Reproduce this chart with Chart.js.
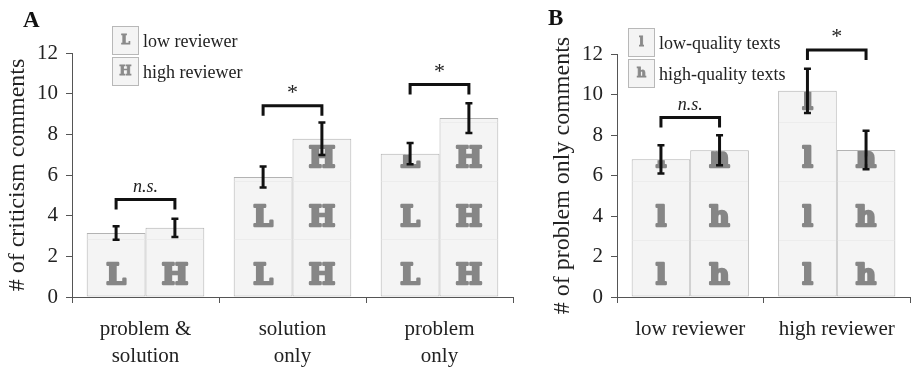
<!DOCTYPE html>
<html>
<head>
<meta charset="utf-8">
<script src="https://cdn.jsdelivr.net/npm/chart.js@4.4.0/dist/chart.umd.min.js"></script>
<style>
	body { margin: 0; background: #fff; }
	.panel { position: absolute; top: 0; height: 369px; }
	#panel-a { left: 0; width: 540px; }
	#panel-b { left: 540px; width: 374px; }
</style>
</head>
<body>
<div class="panel" id="panel-a"><canvas id="chart-a"></canvas></div>
<div class="panel" id="panel-b"><canvas id="chart-b"></canvas></div>
<script>
// panel A: criticism comments by feedback type
const categoriesA = [["problem &", "solution"], ["solution", "only"], ["problem", "only"]];
const lowReviewer = [3.15, 5.9, 7.05];
const highReviewer = [3.4, 7.78, 8.8];
const lowReviewerErr = [0.33, 0.52, 0.52];
const highReviewerErr = [0.45, 0.8, 0.73];
const bracketA = [4.8, 9.4, 10.45];
const signifA = ["n.s.", "*", "*"];

// panel B: problem only comments by reviewer level
const categoriesB = ["low reviewer", "high reviewer"];
const lowQuality = [6.8, 10.18];
const highQuality = [7.25, 7.26];
const lowQualityErr = [0.7, 1.09];
const highQualityErr = [0.74, 0.95];
const bracketB = [8.87, 12.2];
const signifB = ["n.s.", "*"];

const yTicks = [0, 2, 4, 6, 8, 10, 12];

const SERIF = "'Liberation Serif', 'Times New Roman', serif";
Chart.defaults.font.family = SERIF;
Chart.defaults.color = "#222";

const decorPlugin = {
	id: "decor",
	afterDatasetsDraw(chart, args, opts) {
		const ctx = chart.ctx;
		const yScale = chart.scales.y;
		// letter tiles inside bars
		chart.data.datasets.forEach((ds, i) => {
			const meta = chart.getDatasetMeta(i);
			meta.data.forEach((bar) => {
				const {x, y, base, width} = bar.getProps(["x", "y", "base", "width"], true);
				const left = x - width / 2;
				ctx.save();
				ctx.beginPath();
				ctx.rect(left + 1, y + 1, width - 2, base - y - 1);
				ctx.clip();
				ctx.font = "bold 28px 'DejaVu Serif'";
				ctx.textAlign = "center";
				ctx.textBaseline = "middle";
				ctx.lineJoin = "round";
				for (let k = 0; base - width * k > y; k++) {
					const cy = base - width * (k + 0.33);
					ctx.fillStyle = "#868686";
					ctx.strokeStyle = "#868686";
					ctx.lineWidth = 2.5;
					ctx.strokeText(opts.letters[i], x, cy);
					ctx.fillText(opts.letters[i], x, cy);
					const ly = Math.round(base - width * (k + 0.97)) + 0.5;
					ctx.strokeStyle = "#ececec";
					ctx.lineWidth = 1;
					ctx.beginPath();
					ctx.moveTo(left, ly);
					ctx.lineTo(left + width, ly);
					ctx.stroke();
				}
				ctx.restore();
			});
		});
		// error bars
		ctx.save();
		ctx.strokeStyle = "#111";
		chart.data.datasets.forEach((ds, i) => {
			const meta = chart.getDatasetMeta(i);
			meta.data.forEach((bar, j) => {
				const x = bar.x;
				const v = ds.data[j];
				const hi = yScale.getPixelForValue(v + opts.errors[i][j]);
				const lo = yScale.getPixelForValue(v - opts.errors[i][j]);
				ctx.lineWidth = 3;
				ctx.beginPath();
				ctx.moveTo(x, hi);
				ctx.lineTo(x, lo);
				ctx.stroke();
				ctx.lineWidth = 2.5;
				ctx.beginPath();
				ctx.moveTo(x - 3.5, hi);
				ctx.lineTo(x + 3.5, hi);
				ctx.moveTo(x - 3.5, lo);
				ctx.lineTo(x + 3.5, lo);
				ctx.stroke();
			});
		});
		// significance brackets
		const m0 = chart.getDatasetMeta(0);
		const m1 = chart.getDatasetMeta(1);
		opts.brackets.forEach((level, j) => {
			const x0 = m0.data[j].x;
			const x1 = m1.data[j].x;
			const top = yScale.getPixelForValue(level);
			ctx.lineWidth = 3;
			ctx.lineJoin = "miter";
			ctx.beginPath();
			ctx.moveTo(x0, top + 10);
			ctx.lineTo(x0, top);
			ctx.lineTo(x1, top);
			ctx.lineTo(x1, top + 10);
			ctx.stroke();
			const label = opts.signif[j];
			ctx.fillStyle = "#222";
			ctx.textAlign = "center";
			ctx.textBaseline = "alphabetic";
			if (label === "*") {
				ctx.font = "22px " + SERIF;
				ctx.fillText(label, (x0 + x1) / 2, top - 7);
			} else {
				ctx.font = "italic 18px " + SERIF;
				ctx.fillText(label, (x0 + x1) / 2, top - 7);
			}
		});
		ctx.restore();
	},
	afterDraw(chart, args, opts) {
		const ctx = chart.ctx;
		const area = chart.chartArea;
		ctx.save();
		// panel letter
		ctx.fillStyle = "#111";
		ctx.font = "bold 23px " + SERIF;
		ctx.textAlign = "left";
		ctx.textBaseline = "alphabetic";
		ctx.fillText(opts.panel, opts.panelX, opts.panelY);
		// legend
		const bx = area.left + opts.legendX;
		chart.data.datasets.forEach((ds, i) => {
			const by = opts.legendY + i * 31;
			ctx.fillStyle = "#f4f4f4";
			ctx.fillRect(bx, by, 27, 29);
			ctx.strokeStyle = "#b8b8b8";
			ctx.lineWidth = 1;
			ctx.strokeRect(bx + 0.5, by + 0.5, 26, 28);
			ctx.fillStyle = "#8a8a8a";
			ctx.strokeStyle = "#8a8a8a";
			ctx.lineWidth = 0.8;
			ctx.font = "bold 13px 'DejaVu Serif'";
			ctx.textAlign = "center";
			ctx.textBaseline = "middle";
			ctx.strokeText(opts.letters[i], bx + 13.5, by + 15);
			ctx.fillText(opts.letters[i], bx + 13.5, by + 15);
			ctx.fillStyle = "#222";
			ctx.font = "18px " + SERIF;
			ctx.textAlign = "left";
			ctx.fillText(ds.label, bx + 31, by + 16);
		});
		ctx.restore();
	}
};

function barDataset(label, values) {
	return {
		label: label,
		data: values,
		backgroundColor: "#f4f4f4",
		borderColor: "#b3b3b3",
		borderWidth: 1,
		borderSkipped: false,
		categoryPercentage: 0.8,
		barPercentage: 1.0
	};
}

function makeOptions(yTitle, padding, decor) {
	return {
		responsive: true,
		maintainAspectRatio: false,
		animation: false,
		layout: {padding: padding},
		plugins: {
			legend: {display: false},
			tooltip: {enabled: false},
			decor: decor
		},
		scales: {
			x: {
				grid: {drawOnChartArea: false, offset: true, tickLength: 6, color: "#555"},
				border: {color: "#555", width: 1},
				ticks: {font: {size: 21, lineHeight: 1.3}, color: "#222", padding: 13, maxRotation: 0},
				afterFit: (scale) => { scale.height = 72; }
			},
			y: {
				min: 0,
				max: 12,
				grid: {drawOnChartArea: false, tickLength: 6, color: "#555"},
				border: {color: "#555", width: 1},
				ticks: {font: {size: 21}, color: "#222", padding: 8},
				afterBuildTicks: (scale) => { scale.ticks = yTicks.map(v => ({value: v})); },
				afterFit: (scale) => { scale.width = 72; },
				title: {display: true, text: yTitle, font: {size: 24}, color: "#222", padding: {top: 3, bottom: 0}}
			}
		}
	};
}

new Chart("chart-a", {
	type: "bar",
	data: {
		labels: categoriesA,
		datasets: [barDataset("low reviewer", lowReviewer), barDataset("high reviewer", highReviewer)]
	},
	options: makeOptions("# of criticism comments", {left: 0, top: 53, right: 27, bottom: 0}, {
		letters: ["L", "H"],
		errors: [lowReviewerErr, highReviewerErr],
		brackets: bracketA,
		signif: signifA,
		panel: "A", panelX: 23, panelY: 27,
		legendX: 40, legendY: 26
	}),
	plugins: [decorPlugin]
});

new Chart("chart-b", {
	type: "bar",
	data: {
		labels: categoriesB,
		datasets: [barDataset("low-quality texts", lowQuality), barDataset("high-quality texts", highQuality)]
	},
	options: makeOptions("# of problem only comments", {left: 5, top: 54, right: 4, bottom: 0}, {
		letters: ["l", "h"],
		errors: [lowQualityErr, highQualityErr],
		brackets: bracketB,
		signif: signifB,
		panel: "B", panelX: 8, panelY: 25,
		legendX: 11, legendY: 28
	}),
	plugins: [decorPlugin]
});
</script>
</body>
</html>
